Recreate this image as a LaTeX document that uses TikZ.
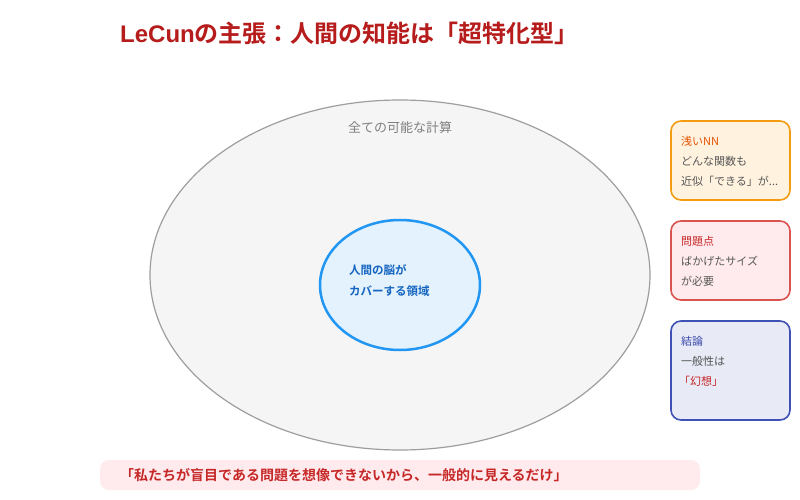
\documentclass[tikz,border=0pt]{standalone}
\usepackage{fontspec}
\setmainfont{Noto Sans CJK JP}
\newfontfamily\jpb{Noto Sans CJK JP}[BoldFont={Noto Sans CJK JP Bold}]
\newfontfamily\latb{Liberation Sans}
\definecolor{titlered}{HTML}{B71C1C}
\definecolor{outerfill}{HTML}{F5F5F5}
\definecolor{outerline}{HTML}{9E9E9E}
\definecolor{innerfill}{HTML}{E3F2FD}
\definecolor{innerline}{HTML}{2196F3}
\definecolor{innertext}{HTML}{1565C0}
\definecolor{orfill}{HTML}{FFF3E0}
\definecolor{orline}{HTML}{F39C12}
\definecolor{ortext}{HTML}{E65100}
\definecolor{rdfill}{HTML}{FFEBEE}
\definecolor{rdline}{HTML}{D9534F}
\definecolor{rdtext}{HTML}{C62828}
\definecolor{blfill}{HTML}{E8EAF6}
\definecolor{blline}{HTML}{3F51B5}
\definecolor{bltext}{HTML}{3949AB}
\definecolor{bodytext}{HTML}{555555}
\tikzset{
  sidebox/.style={rounded corners=10pt, line width=1.6pt},
  boxtxt/.style={anchor=west, inner sep=0pt, font=\fontsize{11}{13}\selectfont},
}
\begin{document}
\begin{tikzpicture}[x=1pt,y=-1pt]
\useasboundingbox[fill=white] (0,0) rectangle (800,500);
% title
\node[anchor=west, inner sep=0pt, text=titlered, font=\jpb\bfseries\fontsize{24}{28}\selectfont] (title) at (120,33) {{\latb\bfseries LeCun}の主張：人間の知能は「超特化型」};
% outer ellipse
\draw[fill=outerfill, draw=outerline, line width=1.2pt] (400,275) ellipse [x radius=250, y radius=175];
\node[inner sep=0pt, text=gray, font=\fontsize{13}{15}\selectfont] (outerlbl) at (400,128) {全ての可能な計算};
% inner ellipse
\draw[fill=innerfill, draw=innerline, line width=2.5pt] (400,285) ellipse [x radius=80, y radius=65];
\node[anchor=west, inner sep=0pt, text=innertext, font=\jpb\bfseries\fontsize{11.5}{13}\selectfont] (in1) at (349,270) {人間の脳が};
\node[anchor=west, inner sep=0pt, text=innertext, font=\jpb\bfseries\fontsize{11.5}{13}\selectfont] (in2) at (349,291) {カバーする領域};
% side boxes
\draw[sidebox, fill=orfill, draw=orline] (671,121) rectangle (790,200);
\node[boxtxt, text=ortext] (o1) at (681,141) {浅いNN};
\node[boxtxt, text=bodytext] (o2) at (681,161) {どんな関数も};
\node[boxtxt, text=bodytext] (o3) at (681,181) {近似「できる」が...};
\draw[sidebox, fill=rdfill, draw=rdline] (671,221) rectangle (790,300);
\node[boxtxt, text=rdtext] (r1) at (681,241) {問題点};
\node[boxtxt, text=bodytext] (r2) at (681,261) {ばかげたサイズ};
\node[boxtxt, text=bodytext] (r3) at (681,281) {が必要};
\draw[sidebox, fill=blfill, draw=blline] (671,321) rectangle (790,420);
\node[boxtxt, text=bltext] (b1) at (681,341) {結論};
\node[boxtxt, text=bodytext] (b2) at (681,361) {一般性は};
\node[boxtxt, text=rdtext] (b3) at (679,381) {「幻想」};
% bottom banner
\fill[rdfill, rounded corners=9pt] (100,460) rectangle (700,490);
\node[anchor=west, inner sep=0pt, text=rdtext, font=\jpb\bfseries\fontsize{14}{16}\selectfont] (quote) at (120,475) {「私たちが盲目である問題を想像できないから、一般的に見えるだけ」};
\end{tikzpicture}
\end{document}
